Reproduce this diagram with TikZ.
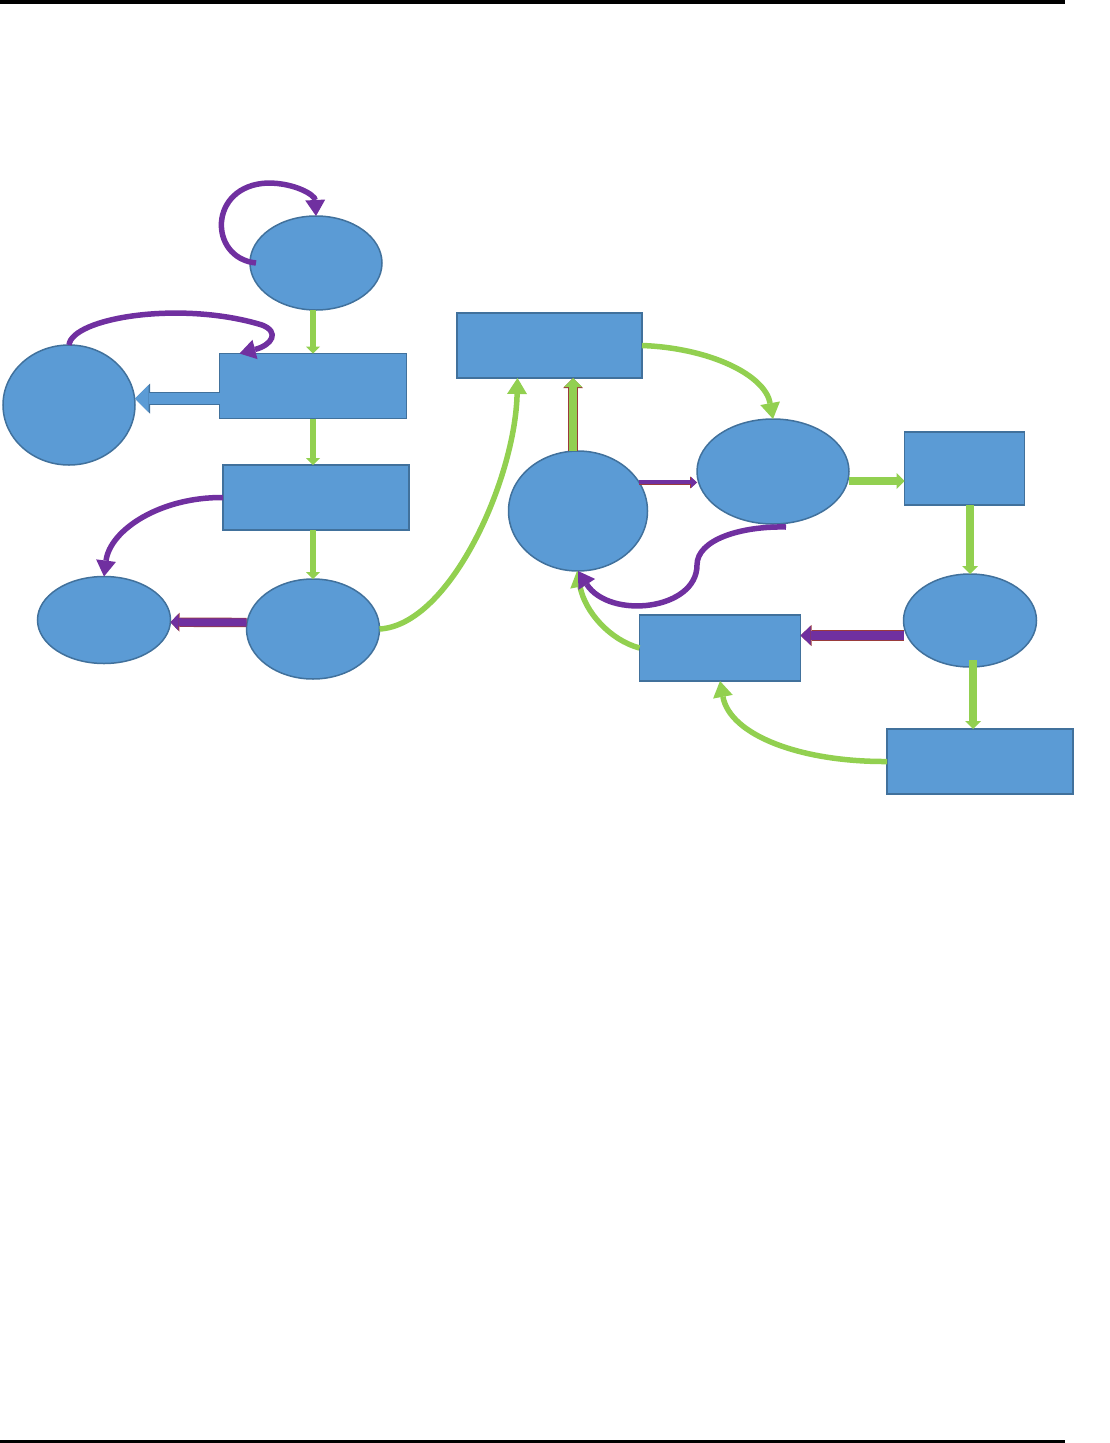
\documentclass[tikz,border=0pt]{standalone}
\usetikzlibrary{shapes.geometric,arrows.meta}
\definecolor{nodefill}{HTML}{5B9BD5}
\definecolor{nodeline}{HTML}{41719C}
\definecolor{lgreen}{HTML}{92D050}
\definecolor{dpurple}{HTML}{7030A0}
\definecolor{rimred}{HTML}{9A3B3B}
\tikzset{
  ell/.style={ellipse,draw=nodeline,fill=nodefill,line width=1.5pt,inner sep=0pt,outer sep=0pt},
  box/.style={rectangle,draw=nodeline,fill=nodefill,line width=1.5pt,inner sep=0pt,outer sep=0pt},
  curvy/.style={line width=5.5pt,-{Triangle[width=20pt,length=16pt,line width=0pt]}},
  vflow/.style={draw=lgreen,line width=6pt,-{Triangle[width=14pt,length=7pt,line width=0pt]}},
  gblock/.style={draw=lgreen,line width=8pt,-{Triangle[width=16pt,length=8pt,line width=0pt]}},
  rim/.style n args={4}{preaction={draw=#1,line width=#2,-{Triangle[width=#3,length=#4,line width=0pt]}}},
}
\begin{document}
\begin{tikzpicture}[x=1pt,y=-1pt]
  \useasboundingbox (0,0) rectangle (1110,1443);
  \draw[line width=4pt] (0,2) -- (1065,2);
  \draw[line width=3pt] (0,1441) -- (1065,1441);
  % left part
  \node[ell,minimum width=132pt,minimum height=94pt] (a) at (316,263) {};
  \node[box,minimum width=187pt,minimum height=65pt] (b) at (313,386) {};
  \node[ell,minimum width=132pt,minimum height=120pt] (c) at (69,405) {};
  \node[box,minimum width=186pt,minimum height=65pt] (d) at (316,497.5) {};
  \node[ell,minimum width=133pt,minimum height=87pt] (e) at (104,620) {};
  \node[ell,minimum width=133pt,minimum height=100pt] (f) at (313,629) {};
  \draw[vflow] (b.north |- a.south) -- (b.north);
  \draw[vflow] (b.south) -- (b.south |- d.north);
  \draw[vflow] (f.north |- d.south) -- (f.north);
  \draw[curvy,draw=dpurple] ([xshift=6pt]a.west) .. controls (208,258) and (208,185) .. (268,183)
    .. controls (295,183) and (315,195) .. (a.north);
  \draw[curvy,draw=dpurple] (c.north) .. controls (72,318) and (180,300) .. (262,325)
    .. controls (280,332) and (272,345) .. ([xshift=20pt]b.north west);
  \draw[draw=nodefill,line width=11pt,rim={nodeline}{13.5pt}{30pt}{15pt},
    -{Triangle[width=27pt,length=13.5pt,line width=0pt]}] ([yshift=-12.5pt]b.west) -- ([yshift=6.5pt]c.east);
  \draw[curvy,draw=dpurple] (d.west) .. controls (160,497) and (110,530) .. (e.north);
  \draw[draw=dpurple,line width=8pt,rim={rimred}{9.4pt}{19pt}{9pt},
    -{Triangle[width=17pt,length=8pt,line width=0pt]}] ([yshift=6.5pt]f.west) -- ([yshift=-2.2pt]e.east);
  % right part
  \node[box,minimum width=185pt,minimum height=65pt] (g) at (549.5,345.5) {};
  \node[ell,minimum width=139pt,minimum height=120pt] (h) at (578,511) {};
  \node[ell,minimum width=152pt,minimum height=105pt] (i) at (773,471.5) {};
  \node[box,minimum width=120pt,minimum height=73pt] (j) at (964.5,468.5) {};
  \node[ell,minimum width=133pt,minimum height=93pt] (k) at (970,620.5) {};
  \node[box,minimum width=161pt,minimum height=66pt] (l) at (720,648) {};
  \node[box,minimum width=186pt,minimum height=65pt] (m) at (980,761.5) {};
  \coordinate (gs) at ([xshift=-32pt]g.south);
  \draw[curvy,draw=lgreen] (f.east) .. controls (450,625) and (515,480) .. (gs);
  \coordinate (hn) at ([xshift=-5pt]h.north);
  \draw[draw=lgreen,line width=8pt,rim={rimred}{9.2pt}{19.5pt}{10pt},
    -{Triangle[width=18pt,length=9pt,line width=0pt]}] (hn) -- (hn |- g.south);
  \draw[draw=dpurple,line width=4pt,rim={rimred}{5pt}{12pt}{7pt},
    -{Triangle[width=11pt,length=6pt,line width=0pt]}] (h.25) -- (h.25 -| i.west);
  \draw[curvy,draw=lgreen] (g.east) .. controls (710,348) and (765,375) .. (i.north);
  \coordinate (jw) at ([yshift=-12.5pt]j.west);
  \draw[gblock] (jw -| i.east) -- (jw);
  \coordinate (js) at ([xshift=5.5pt]j.south);
  \draw[gblock] (js) -- (js |- k.north);
  \coordinate (ks) at ([xshift=3pt,yshift=7pt]k.south);
  \draw[gblock] (ks) -- (ks |- m.north);
  \coordinate (lk) at ([yshift=12.5pt]l.east);
  \draw[draw=dpurple,line width=9pt,rim={rimred}{10.4pt}{21pt}{11pt},
    -{Triangle[width=19pt,length=10pt,line width=0pt]}] (lk -| k.west) -- (lk);
  \draw[curvy,draw=lgreen] (m.west) .. controls (800,762) and (730,735) .. (l.south);
  \draw[curvy,draw=lgreen] (l.west) .. controls (610,640) and (585,612) .. ([xshift=-1pt]h.south);
  \coordinate (is) at ([xshift=13pt,yshift=-3pt]i.south);
  \draw[curvy,draw=dpurple] (is) .. controls (740,526) and (697,540) .. (697,565)
    .. controls (697,610) and (610,620) .. (h.south);
\end{tikzpicture}
\end{document}
